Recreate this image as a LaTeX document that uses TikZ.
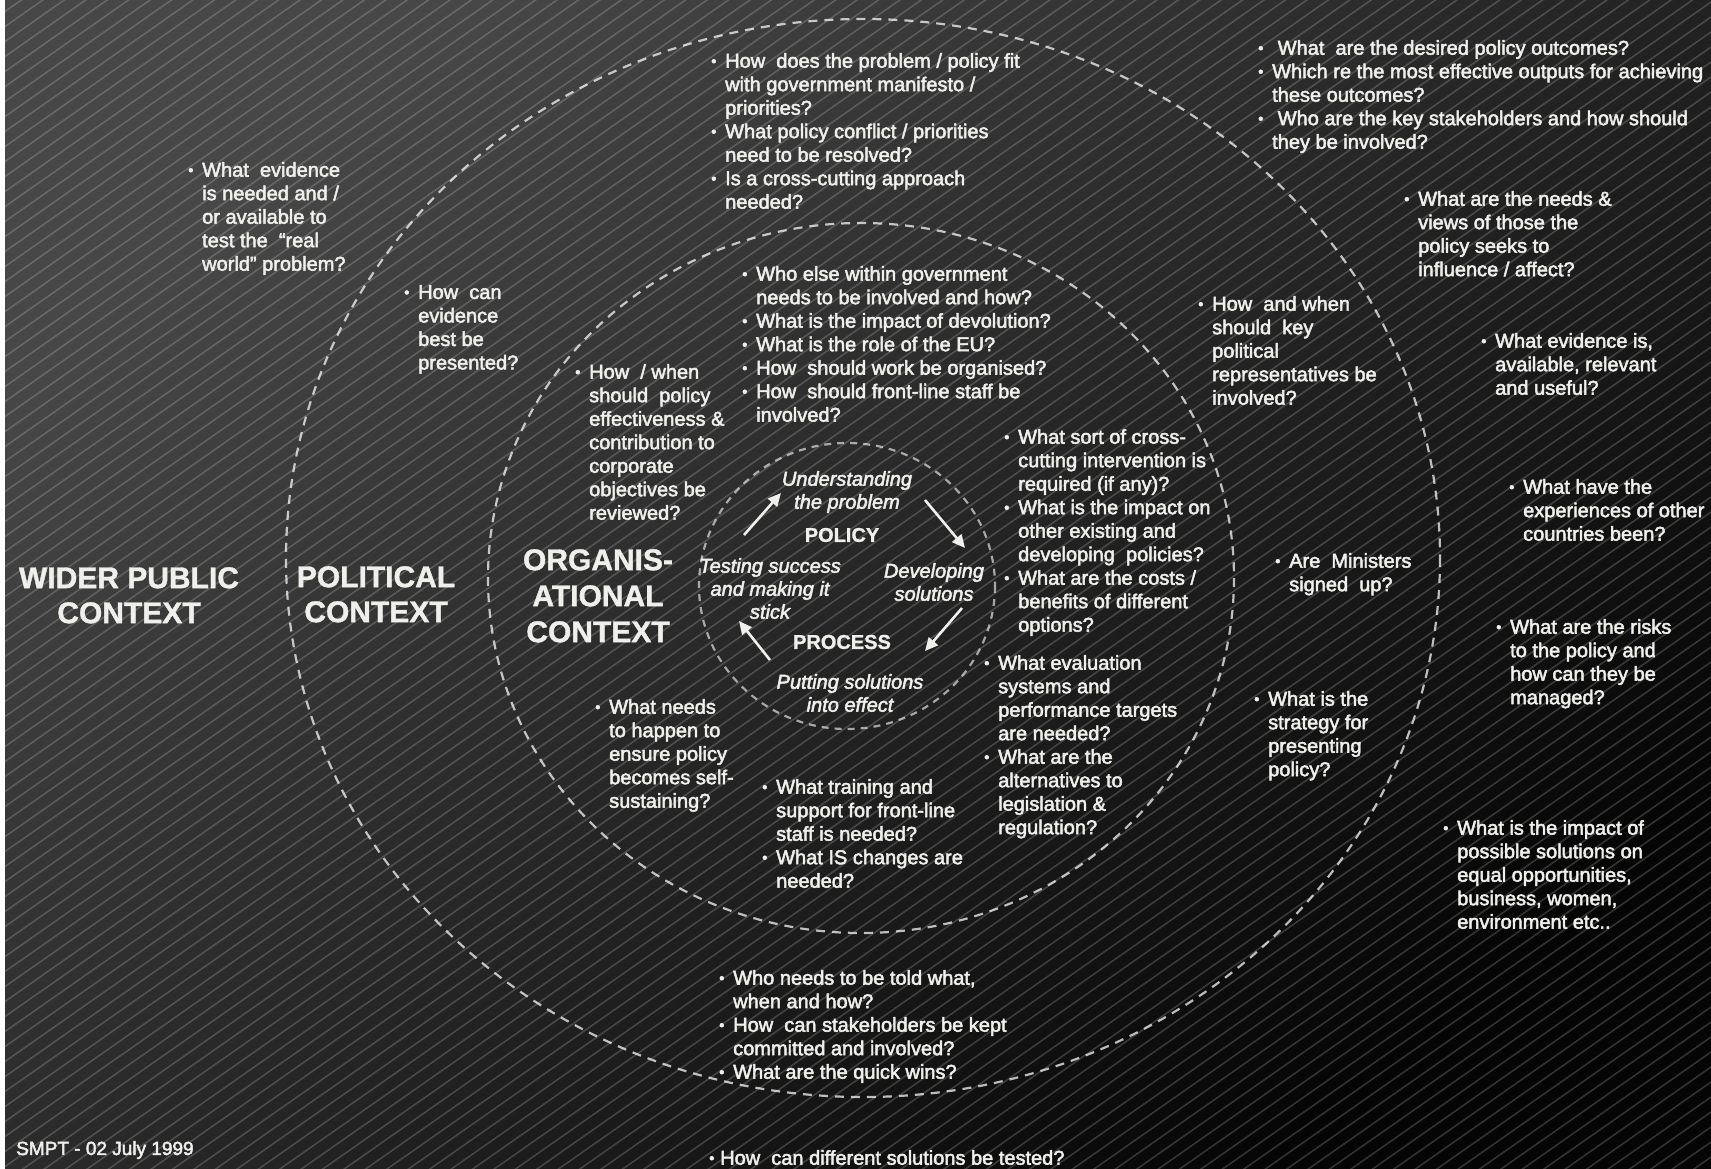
\documentclass[tikz,border=0pt]{standalone}
\usepackage{fontspec}
\setmainfont{Liberation Sans}
\newfontfamily\qfont[FakeBold=2.4, ItalicFeatures={FakeBold=2.4}, BoldFeatures={FakeBold=1.2}]{Liberation Sans}
\usetikzlibrary{arrows.meta}
\definecolor{ink}{HTML}{EFEFEC}
\newcommand\qbul{\makebox[14pt][l]{\raisebox{1.5pt}{\fontsize{15}{15}\selectfont•}}}
\newcommand\qind{\hspace*{14pt}}
\begin{document}
\begin{tikzpicture}[x=1pt,y=-1pt,
  q/.style={anchor=north west, inner sep=0pt, align=left, text=ink,
    font=\qfont\fontsize{20}{23.5}\selectfont},
  head/.style={anchor=north, inner sep=0pt, align=center, text=ink,
    font=\qfont\fontsize{30}{35}\selectfont\bfseries},
  cyc/.style={anchor=north, inner sep=0pt, align=center, text=ink,
    font=\qfont\fontsize{20}{23}\selectfont\itshape},
  stage/.style={inner sep=0pt, text=ink, font=\qfont\fontsize{20}{24}\selectfont\bfseries},
  ring/.style={draw=white, draw opacity=0.72, line width=2.2pt,
    dash pattern=on 9pt off 7pt},
  flow/.style={draw=ink, line width=2.6pt, -{Triangle[length=13pt,width=12pt]}},
]
% canvas: thin white edge on the left, dark shaded board with fine diagonal stripes
\useasboundingbox (0,0) rectangle (1711,1168);
\fill[white] (0,0) rectangle (1711,1168);
\shade[shading=axis, top color=black!72, middle color=black!81, bottom color=black!98,
  shading angle=40] (5,0) rectangle (1711,1168);
\begin{scope}
  \clip (5,0) rectangle (1711,1168);
  \foreach \c in {0,15,...,2400}
    \draw[white, opacity=0.18, line width=1.6pt] (0,\c) -- (1711,\c-1198);
\end{scope}

% context rings
\draw[ring] (863,558) ellipse [x radius=577, y radius=539];
\draw[ring] (861,578) ellipse [x radius=373, y radius=355];
\draw[ring, draw opacity=0.6, dash pattern=on 7pt off 6pt] (847,586) ellipse [x radius=148, y radius=143];

% ring titles
\node[head] (wider) at (129,567) {WIDER PUBLIC\\CONTEXT};
\node[head] (polit) at (376,566) {POLITICAL\\CONTEXT};
\node[head, font=\qfont\fontsize{30}{36}\selectfont\bfseries] (organ) at (598,549) {ORGANIS-\\ATIONAL\\CONTEXT};

% policy process cycle
\node[cyc] (under) at (847,471) {Understanding\\the problem};
\node[stage] (policy) at (842,535) {POLICY};
\node[cyc] (test) at (770,558) {Testing success\\and making it\\stick};
\node[cyc] (devel) at (934,563) {Developing\\solutions};
\node[stage] (process) at (842,642) {PROCESS};
\node[cyc] (putt) at (850,674) {Putting solutions\\into effect};

\coordinate (a1s) at (744,535); \coordinate (a1e) at (781,493);
\coordinate (a2s) at (925,500); \coordinate (a2e) at (965,548);
\coordinate (a3s) at (962,608); \coordinate (a3e) at (925,651);
\coordinate (a4s) at (770,660); \coordinate (a4e) at (739,621);
\draw[flow] (a1s) -- (a1e);
\draw[flow] (a2s) -- (a2e);
\draw[flow] (a3s) -- (a3e);
\draw[flow] (a4s) -- (a4e);

% question lists
\node[q] (q1) at (188,162) {\qbul What~ evidence\\\qind is needed and /\\\qind or available to\\\qind test the ~“real\\\qind world” problem?};
\node[q] (q2) at (404,285) {\qbul How~ can\\\qind evidence\\\qind best be\\\qind presented?};
\node[q] (q3) at (711,53) {\qbul How~ does the problem / policy fit\\\qind with government manifesto /\\\qind priorities?\\\qbul What policy conflict / priorities\\\qind need to be resolved?\\\qbul Is a cross-cutting approach\\\qind needed?};
\node[q] (q4) at (1258,40) {\qbul\ What~ are the desired policy outcomes?\\\qbul Which re the most effective outputs for achieving\\\qind these outcomes?\\\qbul\ Who are the key stakeholders and how should\\\qind they be involved?};
\node[q] (q5) at (1404,191) {\qbul What are the needs \&\\\qind views of those the\\\qind policy seeks to\\\qind influence / affect?};
\node[q] (q6) at (742,266) {\qbul Who else within government\\\qind needs to be involved and how?\\\qbul What is the impact of devolution?\\\qbul What is the role of the EU?\\\qbul How~ should work be organised?\\\qbul How~ should front-line staff be\\\qind involved?};
\node[q] (q7) at (575,364) {\qbul How~ / when\\\qind should~ policy\\\qind effectiveness \&\\\qind contribution to\\\qind corporate\\\qind objectives be\\\qind reviewed?};
\node[q] (q8) at (1198,296) {\qbul How~ and when\\\qind should~ key\\\qind political\\\qind representatives be\\\qind involved?};
\node[q] (q9) at (1481,333) {\qbul What evidence is,\\\qind available, relevant\\\qind and useful?};
\node[q] (q10) at (1004,429) {\qbul What sort of cross-\\\qind cutting intervention is\\\qind required (if any)?\\\qbul What is the impact on\\\qind other existing and\\\qind developing~ policies?\\\qbul What are the costs /\\\qind benefits of different\\\qind options?};
\node[q] (q11) at (1509,479) {\qbul What have the\\\qind experiences of other\\\qind countries been?};
\node[q] (q12) at (1275,553) {\qbul Are~ Ministers\\\qind signed~ up?};
\node[q] (q13) at (984,655) {\qbul What evaluation\\\qind systems and\\\qind performance targets\\\qind are needed?\\\qbul What are the\\\qind alternatives to\\\qind legislation \&\\\qind regulation?};
\node[q] (q14) at (595,699) {\qbul What needs\\\qind to happen to\\\qind ensure policy\\\qind becomes self-\\\qind sustaining?};
\node[q] (q15) at (1254,691) {\qbul What is the\\\qind strategy for\\\qind presenting\\\qind policy?};
\node[q] (q16) at (1496,619) {\qbul What are the risks\\\qind to the policy and\\\qind how can they be\\\qind managed?};
\node[q] (q17) at (762,779) {\qbul What training and\\\qind support for front-line\\\qind staff is needed?\\\qbul What IS changes are\\\qind needed?};
\node[q] (q18) at (1443,820) {\qbul What is the impact of\\\qind possible solutions on\\\qind equal opportunities,\\\qind business, women,\\\qind environment etc..};
\node[q] (q19) at (719,970) {\qbul Who needs to be told what,\\\qind when and how?\\\qbul How~ can stakeholders be kept\\\qind committed and involved?\\\qbul What are the quick wins?};
\node[q] (q20) at (709,1150) {\makebox[11pt][l]{\raisebox{1.5pt}{\fontsize{15}{15}\selectfont•}}How~ can different solutions be tested?};

% footer
\node[q, font=\qfont\fontsize{19}{22}\selectfont] (date) at (16,1141) {SMPT - 02 July 1999};
\end{tikzpicture}
\end{document}
